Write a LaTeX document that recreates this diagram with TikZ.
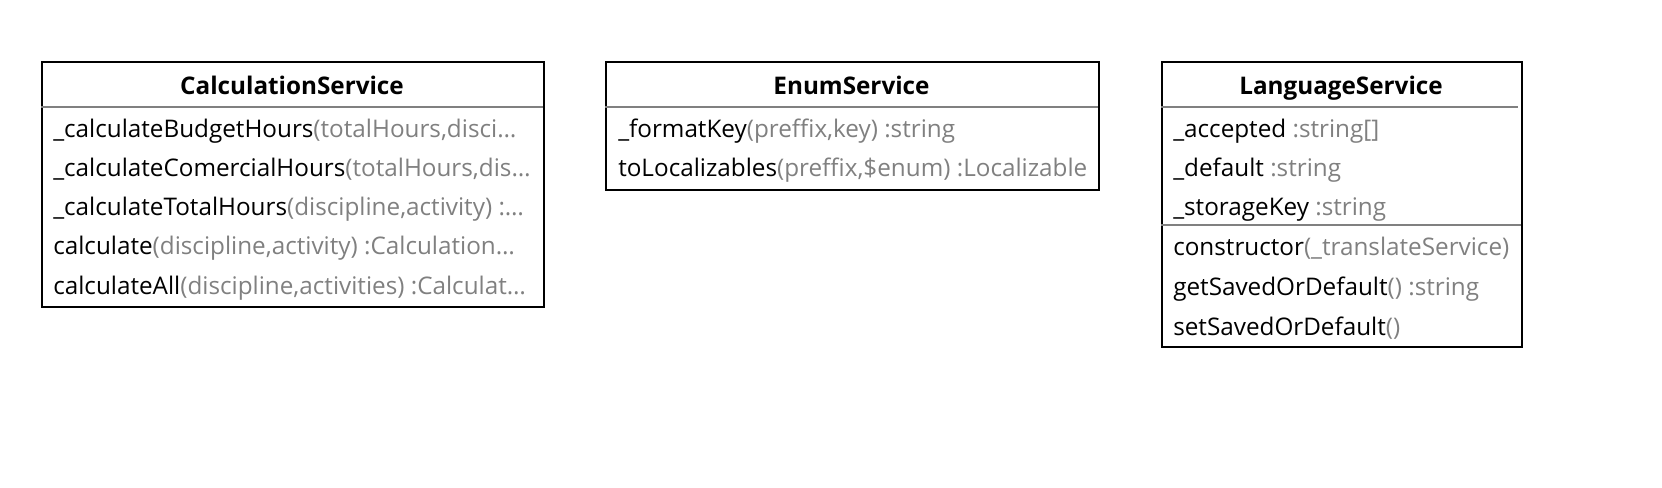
\documentclass[tikz,border=0pt]{standalone}
\usepackage{fontspec}
\setmainfont{Open Sans}
\definecolor{dim}{HTML}{808080}
\begin{document}
\begin{tikzpicture}[x=0.75pt,y=-0.75pt,
  box/.style={draw=black,line width=1.5pt,inner sep=0pt,anchor=north west},
  sep/.style={draw=dim,line width=1.5pt},
  title/.style={font=\bfseries\fontsize{18.2}{21}\selectfont,anchor=base,inner sep=0pt},
  row/.style={font=\fontsize{18.2}{21}\selectfont,anchor=base west,inner sep=0pt}]
\useasboundingbox (0,0) rectangle (1662,488);
\newcommand{\gr}[1]{\textcolor{dim}{#1}}
% CalculationService
\node[box,minimum width=502*0.75pt,minimum height=245*0.75pt] (cs) at (41,61) {};
\coordinate (csl) at (41,107);
\coordinate (csr) at (543,107);
\draw[sep] (csl) -- (csr);
\node[title] (cst) at (292,95) {CalculationService};
\node[row] (cs1) at (53,138) {\_calculateBudgetHours\gr{(totalHours,disci…}};
\node[row] (cs2) at (53,177) {\_calculateComercialHours\gr{(totalHours,dis…}};
\node[row] (cs3) at (53,216) {\_calculateTotalHours\gr{(discipline,activity) :…}};
\node[row] (cs4) at (53,254) {calculate\gr{(discipline,activity) :Calculation…}};
\node[row] (cs5) at (53,294) {calculateAll\gr{(discipline,activities) :Calculat…}};
% EnumService
\node[box,minimum width=493*0.75pt,minimum height=128*0.75pt] (es) at (605,61) {};
\coordinate (esl) at (605,107);
\coordinate (esr) at (1098,107);
\draw[sep] (esl) -- (esr);
\node[title] (est) at (851.5,95) {EnumService};
\node[row] (es1) at (618,138) {\_formatKey\gr{(preffix,key) :string}};
\node[row] (es2) at (618,177) {toLocalizables\gr{(preffix,\$enum) :Localizable}};
% LanguageService
\node[box,minimum width=360*0.75pt,minimum height=285*0.75pt] (ls) at (1161,61) {};
\coordinate (lsl) at (1161,107);
\coordinate (lsr) at (1518,107);
\draw[sep] (lsl) -- (lsr);
\coordinate (lsl2) at (1161,225);
\coordinate (lsr2) at (1521,225);
\draw[sep] (lsl2) -- (lsr2);
\node[title] (lst) at (1341,95) {LanguageService};
\node[row] (ls1) at (1173,138) {\_accepted \gr{:string[]}};
\node[row] (ls2) at (1173,177) {\_default \gr{:string}};
\node[row] (ls3) at (1173,216) {\_storageKey \gr{:string}};
\node[row] (ls4) at (1173,256) {constructor\gr{(\_translateService)}};
\node[row] (ls5) at (1173,296) {getSavedOrDefault\gr{() :string}};
\node[row] (ls6) at (1173,335) {setSavedOrDefault\gr{()}};
\end{tikzpicture}
\end{document}
